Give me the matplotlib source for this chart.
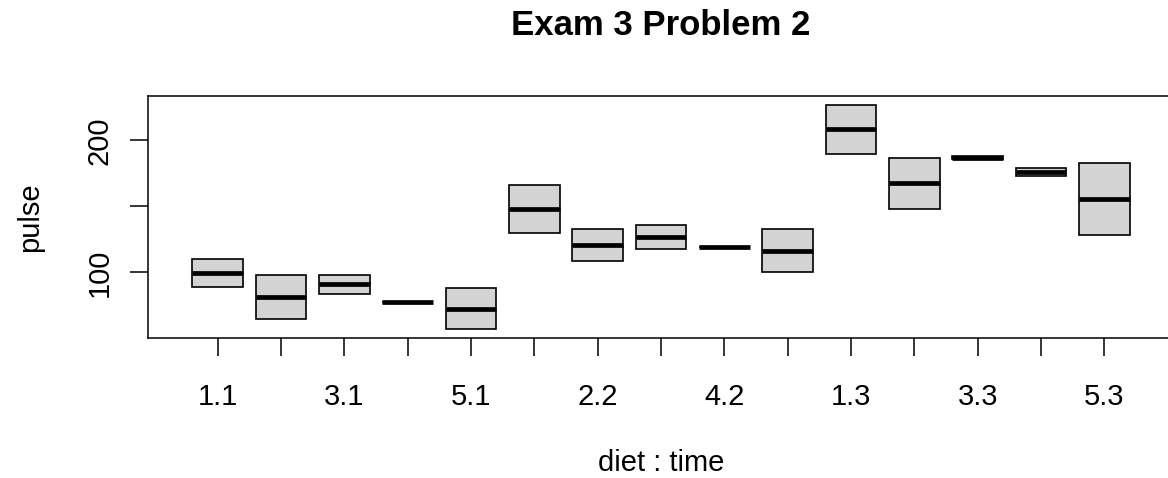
import matplotlib.pyplot as plt

plt.rcParams['font.family'] = ['Liberation Sans', 'DejaVu Sans']

# groups diet.time, in the order R draws them
groups = ["1.1", "2.1", "3.1", "4.1", "5.1",
          "1.2", "2.2", "3.2", "4.2", "5.2",
          "1.3", "2.3", "3.3", "4.3", "5.3"]
pulse_lo = [89, 65, 84, 78, 57, 130, 109, 118, 119, 100, 190, 148, 186, 173, 128]
pulse_med = [99.5, 81.5, 91, 78, 72.5, 148, 121, 127, 119, 116.5, 208.5, 167.5, 187, 176, 155.5]
pulse_hi = [110, 98, 98, 78, 88, 166, 133, 136, 119, 133, 227, 187, 188, 179, 183]
ytick_vals = [100, 150, 200]
ytick_labels = ["100", "", "200"]

W, H = 1168, 478
fig = plt.figure(figsize=(W / 100, H / 100), dpi=100)
# R's plot region; right edge falls just outside the image
ax = fig.add_axes([148 / W, (H - 338.3) / H, (1174 - 148) / W, (338.3 - 95.7) / H])

stats = []
for g, lo, md, hi in zip(groups, pulse_lo, pulse_med, pulse_hi):
    stats.append(dict(label=g, q1=lo, med=md, q3=hi, whislo=lo, whishi=hi, fliers=[]))

pos = list(range(1, len(groups) + 1))
ax.bxp(stats, positions=pos, widths=0.8, patch_artist=True, showcaps=False,
       boxprops=dict(facecolor="#D3D3D3", edgecolor="black", linewidth=1.2),
       medianprops=dict(color="black", linewidth=3.4, solid_capstyle="butt"),
       whiskerprops=dict(linewidth=0), showfliers=False)

ax.set_xlim(0.5 - 0.04 * len(groups), len(groups) + 0.5 + 0.04 * len(groups))
span = max(pulse_hi) - min(pulse_lo)
ax.set_ylim(min(pulse_lo) - 0.04 * span, max(pulse_hi) + 0.04 * span)

ax.set_xticks(pos)
ax.set_xticklabels([g if i % 2 == 0 else "" for i, g in enumerate(groups)], fontsize=21)
ax.set_yticks(ytick_vals)
ax.set_yticklabels(ytick_labels, fontsize=21, rotation=90, va="center")
ax.tick_params(axis="x", length=13, width=1.1, pad=19)
ax.tick_params(axis="y", length=13, width=1.1, pad=12)
for s in ax.spines.values():
    s.set_linewidth(1.1)

fig.text(661 / W, 1 - 35 / H, "Exam 3 Problem 2", ha="center", va="baseline",
         fontsize=25, fontweight="bold")
fig.text(661 / W, 1 - 471 / H, "diet : time", ha="center", va="baseline", fontsize=21)
fig.text(30 / W, 1 - 217 / H, "pulse", ha="center", va="center", rotation=90, fontsize=21)

plt.savefig("out.png", dpi=100)
